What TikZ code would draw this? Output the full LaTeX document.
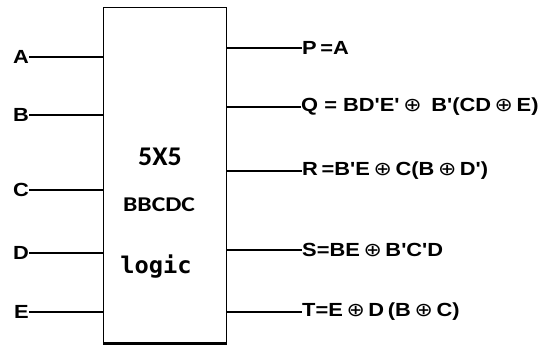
\documentclass[tikz,border=0pt]{standalone}
\usepackage{fontspec}
\setmainfont{Liberation Sans}
\newfontfamily\boxfont{Carlito}
\newfontfamily\logicfont{DejaVu Sans Mono}
\newfontfamily\symfont{DejaVu Sans}
\newcommand{\wide}[1]{\scalebox{1.15}[1]{#1}}
\newcommand{\xo}{\,{\symfont\mdseries ⊕}\,}
\newcommand{\q}{\textquotesingle}
\begin{document}
\begin{tikzpicture}[x=1pt,y=-1pt,
  thinw/.style={line width=1.4pt},
  thickw/.style={line width=2.4pt},
  lab/.style={font=\bfseries\fontsize{19}{21}\selectfont, inner sep=0pt},
  inlab/.style={lab, anchor=east},
  outlab/.style={lab, anchor=west},
  boxtxt/.style={inner sep=0pt}
]
\useasboundingbox (0,0) rectangle (543,345);
% block
\node[draw, line width=1.3pt, minimum width=123pt, minimum height=335pt,
      anchor=north west, inner sep=0pt] (box) at (103,7) {};
\draw[line width=2.6pt] (box.south west) -- (box.south east);
% inner text
\node[boxtxt, font=\boxfont\bfseries\fontsize{27}{29}\selectfont] (t1) at (160,157) {\scalebox{1.03}[1]{5X5}};
\node[boxtxt, font=\boxfont\bfseries\fontsize{21}{23}\selectfont] (t2) at (159,205) {\scalebox{1.22}[1]{BBCDC}};
\node[boxtxt, font=\logicfont\bfseries\fontsize{23}{25}\selectfont] (t3) at (156,267) {\scalebox{1.03}[1]{logic}};
% inputs
\node[inlab] (A) at (29,57) {\wide{A}};
\node[inlab] (B) at (29,115) {\wide{B}};
\node[inlab] (C) at (29,190) {\wide{C}};
\node[inlab] (D) at (29,253) {\wide{D}};
\node[inlab] (E) at (29,312) {\wide{E}};
\draw[thickw] (A.east) -- (A.east -| box.west);
\draw[thinw]  (B.east) -- (B.east -| box.west);
\draw[thickw] (C.east) -- (C.east -| box.west);
\draw[thinw]  (D.east) -- (D.east -| box.west);
\draw[thinw]  (E.east) -- (E.east -| box.west);
% outputs
\node[outlab] (P) at (302,48) {\wide{P\,=A}};
\node[outlab] (Q) at (301,107) {\wide{Q = BD\q E\q\xo\ B\q(CD\xo E)}};
\node[outlab] (R) at (302,171) {\wide{R\,=B\q E\xo C(B\xo D\q)}};
\node[outlab] (S) at (302,250) {\wide{S=BE\xo B\q C\q D}};
\node[outlab] (T) at (302,312) {\wide{T=E\xo D\,(B\xo C)}};
\draw[thickw] (P.west -| box.east) -- (P.west);
\draw[thinw]  (Q.west -| box.east) -- (Q.west);
\draw[thinw]  (R.west -| box.east) -- (R.west);
\draw[thickw] (S.west -| box.east) -- (S.west);
\draw[thinw]  (T.west -| box.east) -- (T.west);
\end{tikzpicture}
\end{document}
